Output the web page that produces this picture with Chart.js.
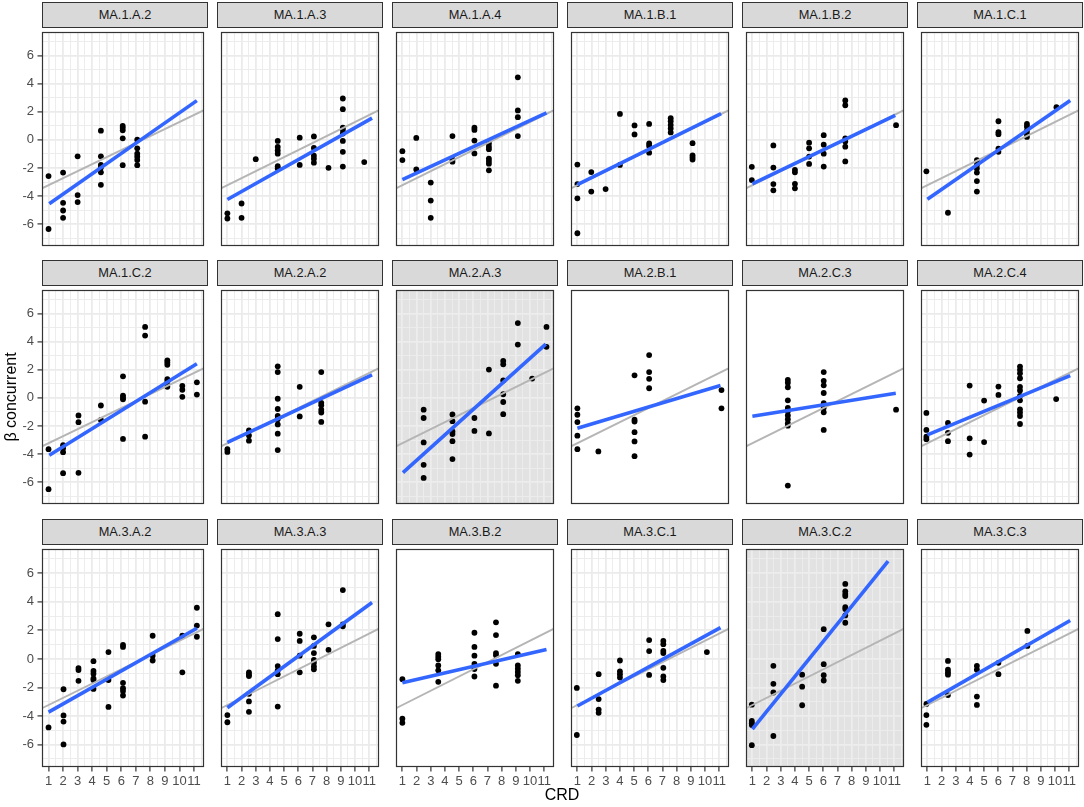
<!DOCTYPE html>
<html><head><meta charset="utf-8">
<script src="https://cdn.jsdelivr.net/npm/chart.js@4.4.1/dist/chart.umd.min.js"></script>
<style>
html,body{margin:0;padding:0;background:#fff;width:1084px;height:807px;overflow:hidden;font-family:"Liberation Sans",Arial,sans-serif;}
.box{position:absolute;}
.strip{position:absolute;box-sizing:border-box;border:1px solid #333;background:#d9d9d9;color:#1a1a1a;font-size:12.8px;text-align:center;line-height:24px;}
.ttl{position:absolute;color:#000;font-size:16px;text-align:center;white-space:nowrap;}
</style></head><body>
<script>
// ---------------- DATA ----------------
const panelNames = ["MA.1.A.2","MA.1.A.3","MA.1.A.4","MA.1.B.1","MA.1.B.2","MA.1.C.1",
                    "MA.1.C.2","MA.2.A.2","MA.2.A.3","MA.2.B.1","MA.2.C.3","MA.2.C.4",
                    "MA.3.A.2","MA.3.A.3","MA.3.B.2","MA.3.C.1","MA.3.C.2","MA.3.C.3"];
const xTickLabels = [1,2,3,4,5,6,7,8,9,10,11];
const yTickLabels = [-6,-4,-2,0,2,4,6];
const xLimits = [0.55, 11.69];
const yLimits = [-7.56, 7.69];
const xAxisTitle = "CRD";
const yAxisTitle = "β concurrent";
// common (grey) reference line: [x0, y0, x1, y1]
const greyLine = [0.55, -3.45, 11.69, 2.12];
// per-panel fitted (blue) line: [x0, y0, x1, y1]
const blueLines = [
  [1.05,-4.55,11.2,2.8],[1,-4.25,11.2,1.55],[1,-2.83,11.16,1.92],[1,-3.18,11.13,1.87],[1,-3.13,11.07,1.74],[1,-4.23,11.07,2.81],
  [1.05,-4.08,11.2,2.43],[1,-3.17,11.2,1.65],[1.04,-5.32,11.11,3.83],[1,-2.16,11.09,0.88],[1,-1.31,11.11,0.33],[1,-2.64,11.07,1.59],
  [1,-3.72,11.2,2.15],[1,-3.42,11.2,3.95],[1,-1.67,11.16,0.66],[1,-3.29,11.09,2.19],[1,-4.91,10.57,6.85],[1,-3.04,11.07,2.69]
];
// per-panel points [CRD, beta]
const ptsMA1A2 = [[1,-2.58],[1,-6.35],[2,-2.33],[2,-4.48],[2,-5.03],[2,-5.55],[3,-1.17],[3,-3.93],[3,-4.43],[4.6,0.66],[4.6,-1.17],[4.6,-1.78],[4.6,-1.97],[4.6,-2.31],[4.6,-3.2],[6.1,1.0],[6.1,0.85],[6.1,0.68],[6.1,0.11],[6.1,-1.8],[7.1,0.02],[7.1,-0.6],[7.1,-0.98],[7.1,-1.2],[7.1,-1.44],[7.1,-1.8]];
const ptsMA1A3 = [[1,-5.23],[1,-5.6],[2,-4.53],[2,-5.55],[3,-1.37],[4.55,-0.07],[4.55,-0.5],[4.55,-0.75],[4.55,-0.98],[4.55,-1.87],[4.55,-2.03],[6.1,0.16],[6.1,-1.78],[7.1,0.25],[7.1,-0.57],[7.1,-1.12],[7.1,-1.35],[7.1,-1.62],[8.13,-1.99],[9.14,2.95],[9.14,2.19],[9.14,0.87],[9.14,0.71],[9.14,0.45],[9.14,-0.07],[9.14,-0.85],[9.14,-1.9],[10.65,-1.58]];
const ptsMA1A4 = [[1,-0.8],[1,-1.44],[1.98,0.14],[1.98,-2.1],[3,-3.04],[3,-4.32],[3,-5.55],[4.53,0.27],[4.53,-1.39],[4.53,-1.55],[6.08,0.87],[6.08,0.71],[6.08,-0.05],[6.08,-0.96],[7.1,-0.25],[7.1,-0.48],[7.1,-0.66],[7.1,-1.33],[7.1,-1.51],[7.1,-1.69],[7.1,-2.17],[9.14,4.46],[9.14,2.1],[9.14,1.62],[9.14,0.27]];
const ptsMA1B1 = [[1,-1.76],[1,-3.15],[1,-4.16],[1,-6.65],[1.98,-2.29],[1.98,-3.68],[2.99,-3.5],[4,1.85],[4,-1.78],[5.03,1.03],[5.03,0.39],[6.06,1.14],[6.06,-0.25],[6.06,-0.43],[6.06,-0.91],[7.58,1.55],[7.58,1.33],[7.58,1.07],[7.58,0.82],[7.58,0.53],[9.12,-0.23],[9.12,-1.1],[9.12,-1.25],[9.12,-1.4]];
const ptsMA1B2 = [[0.96,-1.92],[0.96,-2.86],[2.48,-0.39],[2.48,-1.97],[2.48,-3.15],[2.48,-3.59],[4,-2.13],[4,-2.31],[4,-3.13],[4,-3.45],[5,-0.2],[5,-0.6],[5,-1.19],[5,-1.71],[6.03,0.34],[6.03,-0.34],[6.03,-0.98],[6.03,-1.9],[7.55,2.81],[7.55,2.47],[7.55,0.11],[7.55,-0.11],[7.55,-0.48],[7.55,-1.53],[11.13,1.05]];
const ptsMA1C1 = [[0.93,-2.24],[2.45,-5.19],[4.49,-1.44],[4.49,-1.78],[4.49,-2.03],[4.49,-2.33],[4.49,-2.93],[4.49,-3.68],[6.01,1.33],[6.01,0.55],[6.01,0.41],[6.01,-0.62],[6.01,-0.85],[8.02,1.14],[8.02,0.94],[8.02,0.66],[8.02,0.43],[8.02,0.21],[10.1,2.33]];
const ptsMA1C2 = [[1,-3.65],[1,-6.5],[2,-3.37],[2,-3.58],[2,-3.87],[2,-5.36],[3.06,-1.25],[3.06,-1.73],[3.06,-5.34],[4.6,-0.54],[4.6,-1.57],[6.12,1.54],[6.12,0.17],[6.12,0.03],[6.12,-0.1],[6.12,-2.92],[7.64,5.06],[7.64,4.44],[7.64,-0.27],[7.64,-2.76],[9.17,2.68],[9.17,2.53],[9.17,2.36],[9.17,1.33],[9.17,1.15],[9.17,0.79],[10.2,0.86],[10.2,0.58],[10.2,0.08],[11.2,1.11],[11.2,0.24]];
const ptsMA2A2 = [[1,-3.65],[1,-3.85],[2.52,-2.32],[2.52,-2.67],[2.52,-3.05],[4.55,2.25],[4.55,1.84],[4.55,-0.06],[4.55,-0.79],[4.55,-1.29],[4.55,-1.52],[4.55,-1.89],[4.55,-2.55],[4.55,-3.72],[6.1,0.79],[6.1,-1.32],[7.62,1.84],[7.62,-0.35],[7.62,-0.52],[7.62,-0.84],[7.62,-1.04],[7.62,-1.71]];
const ptsMA2A3 = [[2.5,-0.84],[2.5,-1.43],[2.5,-3.17],[2.5,-4.77],[2.5,-5.7],[4.53,-1.18],[4.53,-1.66],[4.53,-2.39],[4.53,-2.57],[4.53,-3.08],[4.53,-4.36],[6.08,-1.43],[6.08,-2.35],[7.1,2.02],[7.1,-2.53],[8.11,2.63],[8.11,2.39],[8.11,1.24],[8.11,0.26],[8.11,-0.29],[8.11,-1.16],[9.14,5.33],[9.14,3.8],[10.15,1.38],[11.16,5.06],[11.16,3.64]];
const ptsMA2B1 = [[1,-0.74],[1,-1.2],[1,-1.72],[1,-2.69],[1,-3.65],[2.48,-3.81],[5.03,1.61],[5.03,-1.55],[5.03,-1.68],[5.03,-2.44],[5.03,-3.1],[5.03,-4.15],[6.06,3.05],[6.06,1.84],[6.06,1.36],[6.06,0.69],[11.16,0.56],[11.16,-0.74]];
const ptsMA2C3 = [[3.5,1.29],[3.5,1.08],[3.5,0.76],[3.5,-0.17],[3.5,-0.72],[3.5,-0.95],[3.5,-1.25],[3.5,-1.52],[3.5,-1.8],[3.5,-1.98],[3.5,-6.25],[6.03,1.84],[6.03,1.22],[6.03,0.9],[6.03,0.35],[6.03,-0.38],[6.03,-0.7],[6.03,-1.02],[6.03,-2.28],[11.13,-0.84]];
const ptsMA2C4 = [[0.93,-1.07],[0.93,-2.28],[0.93,-2.76],[0.93,-2.94],[2.45,-1.78],[2.45,-2.49],[2.45,-3.08],[3.98,0.88],[3.98,-2.88],[3.98,-4.04],[5,-0.19],[5,-3.15],[6.01,0.81],[6.01,0.21],[7.53,2.23],[7.53,2.0],[7.53,1.75],[7.53,1.4],[7.53,0.79],[7.53,0.53],[7.53,0.15],[7.53,-0.17],[7.53,-0.81],[7.53,-1.04],[7.53,-1.29],[7.53,-1.86],[10.08,-0.08]];
const ptsMA3A2 = [[1,-4.79],[2.03,-2.12],[2.03,-3.95],[2.03,-4.38],[2.03,-5.98],[3.06,-0.64],[3.06,-0.78],[3.06,-1.53],[4.09,-0.16],[4.09,-0.84],[4.09,-1.03],[4.09,-1.37],[4.09,-1.48],[4.09,-2.1],[5.12,0.48],[5.12,-1.48],[5.12,-3.36],[6.12,0.98],[6.12,0.84],[6.12,-1.67],[6.12,-2.05],[6.12,-2.24],[6.12,-2.56],[8.16,1.62],[8.16,0.23],[8.16,-0.11],[10.2,1.62],[10.2,-0.94],[11.2,3.58],[11.2,2.33],[11.2,1.55]];
const ptsMA3A3 = [[1,-3.93],[1,-4.43],[2.52,-0.94],[2.52,-1.1],[2.52,-1.2],[2.52,-2.44],[2.52,-2.97],[2.52,-3.7],[4.55,3.13],[4.55,1.39],[4.55,-0.5],[4.55,-0.8],[4.55,-1.07],[4.55,-3.33],[6.1,1.76],[6.1,1.26],[6.1,0.23],[6.1,-0.94],[7.1,1.51],[7.1,0.91],[7.1,0.41],[7.1,-0.07],[7.1,-0.27],[7.1,-0.53],[7.1,-0.73],[8.13,2.42],[8.13,0.64],[9.14,4.82],[9.14,2.42],[9.14,2.28]];
const ptsMA3B2 = [[1,-1.42],[1,-4.18],[1,-4.47],[3.53,0.34],[3.53,0.16],[3.53,-0.02],[3.53,-0.46],[3.53,-0.8],[3.53,-1.6],[6.08,1.83],[6.08,0.84],[6.08,0.23],[6.08,-0.34],[6.08,-0.71],[6.08,-1.23],[7.6,2.56],[7.6,1.67],[7.6,0.41],[7.6,0.25],[7.6,-0.34],[7.6,-1.87],[9.14,0.34],[9.14,-0.46],[9.14,-0.68],[9.14,-0.91],[9.14,-1.14],[9.14,-1.53]];
const ptsMA3C1 = [[0.96,-2.03],[0.96,-5.32],[2.5,-1.07],[2.5,-2.81],[2.5,-3.54],[2.5,-3.77],[4,-0.11],[4,-0.87],[4,-1.07],[4,-1.3],[6.06,1.32],[6.06,0.55],[6.06,-1.12],[7.06,1.26],[7.06,1.03],[7.06,0.57],[7.06,0.41],[7.06,-0.62],[7.06,-1.23],[7.06,-1.48],[10.13,0.48]];
const ptsMA3C2 = [[0.96,-3.2],[0.96,-4.34],[0.96,-4.5],[0.96,-4.63],[0.96,-6.03],[2.48,-0.48],[2.48,-1.74],[2.48,-2.35],[2.48,-5.39],[4.51,-1.1],[4.51,-1.94],[4.51,-3.24],[6.03,2.08],[6.03,-0.37],[6.03,-1.14],[6.03,-1.51],[7.55,5.25],[7.55,4.73],[7.55,4.54],[7.55,4.4],[7.55,3.63],[7.55,3.49],[7.55,3.04],[7.55,2.53]];
const ptsMA3C3 = [[0.93,-3.15],[0.93,-3.93],[0.93,-4.61],[2.45,-0.14],[2.45,-0.75],[2.45,-0.94],[2.45,-1.1],[2.45,-2.53],[4.49,-0.48],[4.49,-0.75],[4.49,-2.63],[4.49,-3.22],[6.01,-0.27],[6.01,-1.07],[8.05,1.96],[8.05,0.91]];
const panelPoints = [ptsMA1A2,ptsMA1A3,ptsMA1A4,ptsMA1B1,ptsMA1B2,ptsMA1C1,ptsMA1C2,ptsMA2A2,ptsMA2A3,ptsMA2B1,ptsMA2C3,ptsMA2C4,ptsMA3A2,ptsMA3A3,ptsMA3B2,ptsMA3C1,ptsMA3C2,ptsMA3C3];

// ---------------- STYLE / LAYOUT ----------------
// panel background kind: grid (white + grid), grey (grey + grid), blank (white, no grid)
const panelBackground = ["grid","grid","grid","grid","grid","grid",
                         "grid","grid","grey","blank","blank","grid",
                         "grid","grid","blank","grid","grey","grid"];
const FONT = '"Liberation Sans", Arial, sans-serif';
Chart.defaults.font.family = FONT;
const colLeft = c => 42 + 175 * c;
const rowTop = [28, 286, 545];
const PW = 166, PH = 222, YAXW = 42, XAXH = 36;

const xTickVals = [];
for (let v = 1; v <= 11.5; v += 0.5) xTickVals.push(v);
const yTickVals = [];
for (let v = -7; v <= 7; v += 1) yTickVals.push(v);
const isMajorX = v => xTickLabels.includes(v);
const isMajorY = v => yTickLabels.includes(v);

function makePanel(i) {
  const r = Math.floor(i / 6), c = i % 6;
  const left = c === 0 ? 0 : colLeft(c);
  const width = c === 0 ? YAXW + PW : PW;
  const height = r === 2 ? PH + XAXH : PH;
  const top = rowTop[r];

  const strip = document.createElement('div');
  strip.className = 'strip';
  Object.assign(strip.style, {left: colLeft(c) + 'px', top: (top - 26) + 'px', width: PW + 'px', height: '26px'});
  strip.textContent = panelNames[i];
  document.body.appendChild(strip);

  const div = document.createElement('div');
  div.className = 'box';
  Object.assign(div.style, {left: left + 'px', top: top + 'px', width: width + 'px', height: height + 'px'});
  const cv = document.createElement('canvas');
  div.appendChild(cv);
  document.body.appendChild(div);

  const kind = panelBackground[i];
  const bg = kind === 'grey' ? '#e2e2e2' : '#ffffff';
  const gcol = kind === 'grid' ? '#ebebeb' : kind === 'grey' ? '#ededed' : 'rgba(0,0,0,0)';

  const panelPlugin = {
    id: 'panelbg' + i,
    beforeDraw(chart) {
      const a = chart.chartArea, ctx = chart.ctx;
      ctx.save(); ctx.fillStyle = bg;
      ctx.fillRect(a.left, a.top, a.right - a.left, a.bottom - a.top);
      ctx.restore();
    },
    afterDraw(chart) {
      const a = chart.chartArea, ctx = chart.ctx;
      ctx.save(); ctx.strokeStyle = '#333333'; ctx.lineWidth = 1.2;
      ctx.strokeRect(a.left + 0.5, a.top + 0.5, a.right - a.left - 1, a.bottom - a.top - 1);
      ctx.restore();
    }
  };

  const b = blueLines[i];
  new Chart(cv, {
    type: 'scatter',
    data: {
      datasets: [
        {data: [{x: b[0], y: b[1]}, {x: b[2], y: b[3]}], showLine: true, borderColor: '#3366FF', borderWidth: 3.6, pointRadius: 0, borderCapStyle: 'butt'},
        {data: [{x: greyLine[0], y: greyLine[1]}, {x: greyLine[2], y: greyLine[3]}], showLine: true, borderColor: '#b5b5b5', borderWidth: 1.9, pointRadius: 0},
        {data: panelPoints[i].map(p => ({x: p[0], y: p[1]})), showLine: false, pointRadius: 2.9, pointBackgroundColor: '#000', pointBorderWidth: 0, pointBorderColor: '#000'}
      ]
    },
    options: {
      responsive: true, maintainAspectRatio: false, animation: false, events: [],
      layout: {padding: 0},
      plugins: {legend: {display: false}, tooltip: {enabled: false}, title: {display: false}},
      scales: {
        x: {
          type: 'linear', min: xLimits[0], max: xLimits[1],
          afterBuildTicks: s => { s.ticks = xTickVals.map(v => ({value: v})); },
          afterFit: s => { s.height = r === 2 ? XAXH : 0; s.paddingLeft = 0; s.paddingRight = 0; },
          border: {display: false},
          grid: {
            color: gcol,
            lineWidth: ctx => (ctx.tick && isMajorX(ctx.tick.value)) ? 1.8 : 0.9,
            drawTicks: r === 2, tickLength: 4.5, tickWidth: 1.2,
            tickColor: ctx => (ctx.tick && isMajorX(ctx.tick.value)) ? '#333333' : 'rgba(0,0,0,0)'
          },
          ticks: {
            display: r === 2, autoSkip: false, maxRotation: 0, minRotation: 0, padding: 2,
            color: '#4d4d4d', font: {family: FONT, size: 13},
            callback: v => isMajorX(v) ? String(v) : ''
          }
        },
        y: {
          type: 'linear', min: yLimits[0], max: yLimits[1],
          afterBuildTicks: s => { s.ticks = yTickVals.map(v => ({value: v})); },
          afterFit: s => { s.width = c === 0 ? YAXW : 0; s.paddingTop = 0; s.paddingBottom = 0; },
          border: {display: false},
          grid: {
            color: gcol,
            lineWidth: ctx => (ctx.tick && isMajorY(ctx.tick.value)) ? 1.8 : 0.9,
            drawTicks: c === 0, tickLength: 4.5, tickWidth: 1.2,
            tickColor: ctx => (ctx.tick && isMajorY(ctx.tick.value)) ? '#333333' : 'rgba(0,0,0,0)'
          },
          ticks: {
            display: c === 0, autoSkip: false, padding: 3.5,
            color: '#4d4d4d', font: {family: FONT, size: 13},
            callback: v => isMajorY(v) ? String(v) : ''
          }
        }
      }
    },
    plugins: [panelPlugin]
  });
}

for (let i = 0; i < panelNames.length; i++) makePanel(i);

// axis titles
const yt = document.createElement('div');
yt.className = 'ttl';
yt.textContent = yAxisTitle;
Object.assign(yt.style, {left: (11 - 100) + 'px', top: (397 - 10) + 'px', width: '200px', height: '20px', lineHeight: '20px', transform: 'rotate(-90deg)'});
document.body.appendChild(yt);
const xt = document.createElement('div');
xt.className = 'ttl';
xt.textContent = xAxisTitle;
Object.assign(xt.style, {left: (562 - 100) + 'px', top: (795 - 10) + 'px', width: '200px', height: '20px', lineHeight: '20px'});
document.body.appendChild(xt);
</script>
</body></html>
